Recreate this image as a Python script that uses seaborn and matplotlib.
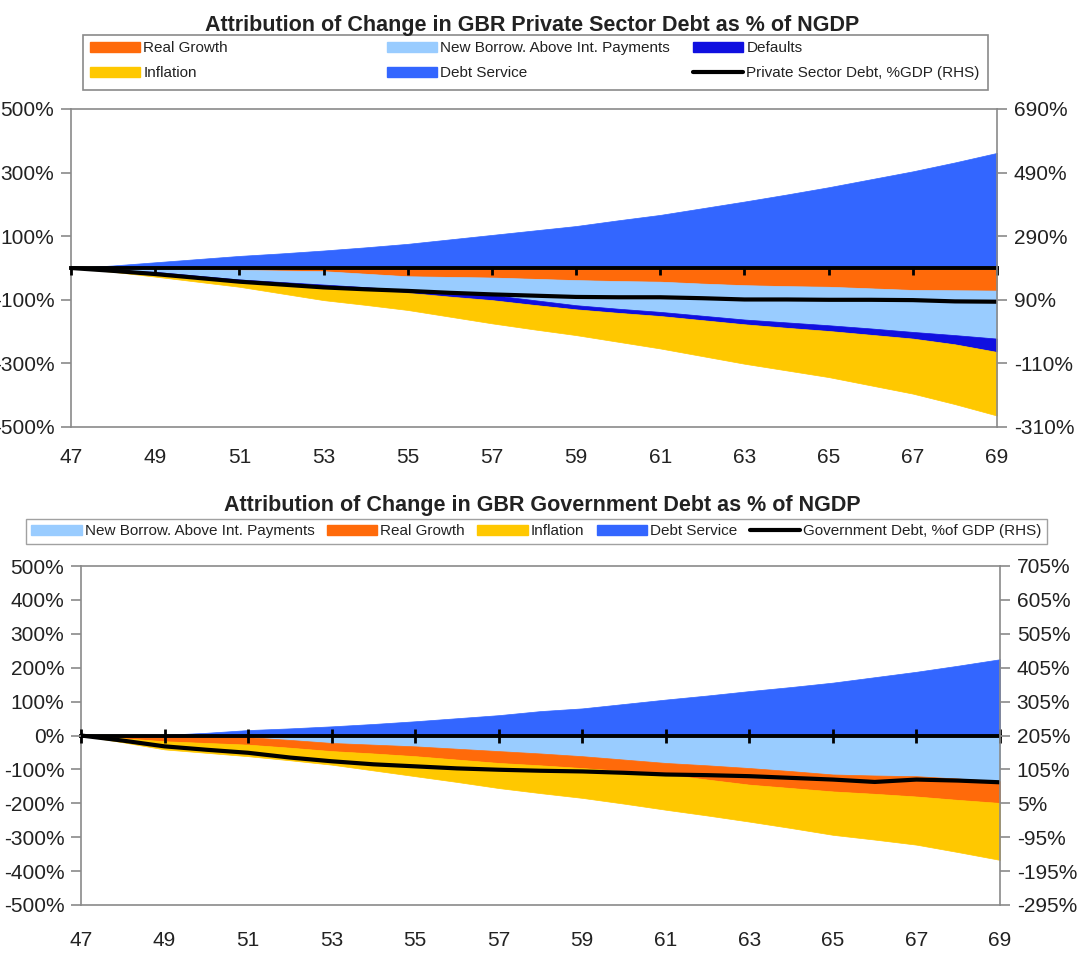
import matplotlib
matplotlib.use("Agg")
import matplotlib.pyplot as plt
import matplotlib.patches as mpatches
import matplotlib.lines as mlines
import seaborn as sns
import pandas as pd

# ---------------- data ----------------
years = list(range(47, 70))
year_ticks = list(range(47, 70, 2))

# Private sector panel (% of NGDP, cumulative contributions)
priv_debt_service = [0, 8, 18, 28, 38, 46, 55, 65, 76, 90, 104, 118, 132, 150, 167, 188, 209, 231, 254, 279, 304, 332, 362]
priv_real_growth = [0, -1, -2, -4, -6, -8, -10, -18, -26, -28, -30, -34, -38, -41, -43, -49, -54, -57, -59, -64, -69, -70, -71]
priv_new_borrow = [0, -5, -10, -20, -30, -36, -42, -42, -43, -49, -55, -67, -79, -87, -95, -101, -108, -114, -121, -126, -132, -141, -151]
priv_defaults = [0, -1, -2, -3, -4, -5, -6, -7, -9, -13, -16, -15, -13, -13, -13, -14, -15, -17, -18, -20, -21, -29, -42]
priv_inflation = [0, -5, -13, -16, -19, -31, -43, -49, -54, -63, -73, -77, -81, -91, -102, -113, -124, -134, -145, -159, -173, -188, -200]
priv_debt_gdp = [190, 181, 171, 159, 147, 138, 129, 123, 118, 112, 107, 103, 99, 98, 98, 95, 91, 91, 90, 90, 89, 85, 84]

# Government panel
gov_debt_service = [0, 0, 2, 8, 16, 21, 27, 34, 42, 51, 60, 72, 80, 93, 106, 118, 131, 143, 156, 172, 188, 206, 225]
gov_new_borrow = [0, -1, -2, -3, -5, -13, -22, -27, -32, -39, -46, -53, -61, -71, -81, -88, -96, -105, -115, -118, -120, -127, -135]
gov_real_growth = [0, -7, -15, -19, -22, -23, -24, -26, -29, -32, -35, -35, -35, -34, -34, -42, -49, -50, -50, -54, -60, -63, -64]
gov_inflation = [0, -12, -24, -29, -34, -37, -40, -50, -59, -66, -74, -82, -88, -96, -104, -106, -109, -118, -128, -135, -142, -154, -168]
gov_debt_gdp = [205, 190, 173, 163, 154, 140, 129, 120, 114, 108, 104, 101, 99, 95, 90, 88, 85, 80, 75, 68, 75, 72, 67]

top_left_ticks = [-500, -300, -100, 100, 300, 500]
top_right_ticks = [-310, -110, 90, 290, 490, 690]
bot_left_ticks = list(range(-500, 501, 100))
bot_right_ticks = list(range(-295, 706, 100))

top_title = "Attribution of Change in GBR Private Sector Debt as % of NGDP"
bot_title = "Attribution of Change in GBR Government Debt as % of NGDP"

C_RG = "#FF6A0A"
C_INF = "#FFC800"
C_NB = "#99CCFF"
C_DS = "#3366FF"
C_DEF = "#1010E0"
GRAY = "#8a8a8a"
TXT = "#222222"

# ---------------- style ----------------
sns.set_theme(style="white")
plt.rcParams["font.family"] = ["Liberation Sans", "DejaVu Sans"]

W, H = 1080, 960
fig = plt.figure(figsize=(W / 100, H / 100), dpi=100)


def add_ax(left, top, right, bottom):
    return fig.add_axes([left / W, 1 - bottom / H, (right - left) / W, (bottom - top) / H])


def setup(ax, ax2, lticks, rlim, rticks, tdir, tlen, xpad):
    ax.set_axisbelow(False)
    ax.set_xlim(47, 69)
    ax.set_ylim(-500, 500)
    ax.set_yticks(lticks)
    ax.set_yticklabels([f"{v}%" for v in lticks])
    ax2.set_ylim(*rlim)
    ax2.set_yticks(rticks)
    ax2.set_yticklabels([f"{v}%" for v in rticks])
    ax.spines["bottom"].set_position(("data", 0))
    ax.spines["bottom"].set_color("black")
    ax.spines["bottom"].set_linewidth(2.8)
    ax.spines["right"].set_visible(False)
    for s in ["left", "top"]:
        ax.spines[s].set_color(GRAY)
        ax.spines[s].set_linewidth(1.2)
    ax.set_xticks(year_ticks)
    ax.tick_params(axis="x", bottom=True, direction=tdir, length=tlen, width=2,
                   color="black", labelbottom=False)
    ax.tick_params(axis="y", left=True, direction="out", length=7, width=1.2,
                   color=GRAY, labelsize=15, labelcolor=TXT, pad=5)
    for s in ["left", "top", "bottom"]:
        ax2.spines[s].set_visible(False)
    ax2.spines["right"].set_color(GRAY)
    ax2.spines["right"].set_linewidth(1.2)
    ax2.tick_params(axis="y", right=True, direction="out", length=7, width=1.2,
                    color=GRAY, labelsize=15, labelcolor=TXT, pad=5)
    ax2.set_xlabel("")
    ax2.set_ylabel("")
    ax.set_xlabel("")
    ax.set_ylabel("")
    sec = ax.secondary_xaxis("bottom")
    sec.set_xticks(year_ticks)
    sec.set_xticklabels([str(v) for v in year_ticks])
    sec.tick_params(axis="x", bottom=True, length=0, labelsize=15, labelcolor=TXT, pad=xpad)
    sec.spines["bottom"].set_color(GRAY)
    sec.spines["bottom"].set_linewidth(1.2)
    ax.set_xlim(47, 69)


# ---------------- top panel ----------------
ax1 = add_ax(71, 109, 997, 427)
ax1.stackplot(years, priv_debt_service, colors=[C_DS], linewidth=0.5, edgecolor="face")
ax1.stackplot(years, priv_real_growth, priv_new_borrow, priv_defaults, priv_inflation,
              colors=[C_RG, C_NB, C_DEF, C_INF], linewidth=0.5, edgecolor="face")
ax1r = ax1.twinx()
df1 = pd.DataFrame({"year": years, "debt": priv_debt_gdp})
sns.lineplot(data=df1, x="year", y="debt", ax=ax1r, color="black", linewidth=3)
setup(ax1, ax1r, top_left_ticks, (-310, 690), top_right_ticks, "out", 5, 15)

# ---------------- bottom panel ----------------
ax3 = add_ax(81, 566, 1000, 905)
ax3.stackplot(years, gov_debt_service, colors=[C_DS], linewidth=0.5, edgecolor="face")
ax3.stackplot(years, gov_new_borrow, gov_real_growth, gov_inflation,
              colors=[C_NB, C_RG, C_INF], linewidth=0.5, edgecolor="face")
ax3r = ax3.twinx()
df2 = pd.DataFrame({"year": years, "debt": gov_debt_gdp})
sns.lineplot(data=df2, x="year", y="debt", ax=ax3r, color="black", linewidth=3)
setup(ax3, ax3r, bot_left_ticks, (-295, 705), bot_right_ticks, "inout", 10, 19)

# ---------------- titles ----------------
fig.text(532 / W, 1 - 25 / H, top_title, ha="center", va="center",
         fontsize=15.5, fontweight="bold", color=TXT)
fig.text(542 / W, 1 - 505 / H, bot_title, ha="center", va="center",
         fontsize=15.5, fontweight="bold", color=TXT)

# ---------------- legends ----------------
def patch(c, lab):
    return mpatches.Patch(facecolor=c, edgecolor=c, label=lab)


line_priv = mlines.Line2D([], [], color="black", linewidth=3, label="Private Sector Debt, %GDP (RHS)")
line_gov = mlines.Line2D([], [], color="black", linewidth=3, label="Government Debt, %of GDP (RHS)")

fig.add_artist(mpatches.Rectangle((83 / W, 1 - 90 / H), 905 / W, 55 / H, transform=fig.transFigure,
                                  fill=False, edgecolor=GRAY, linewidth=1.2))
cols = [
    (90, [patch(C_RG, "Real Growth"), patch(C_INF, "Inflation")]),
    (387, [patch(C_NB, "New Borrow. Above Int. Payments"), patch(C_DS, "Debt Service")]),
    (693, [patch(C_DEF, "Defaults"), line_priv]),
]
for x, hs in cols:
    fig.legend(handles=hs, loc="upper left", bbox_to_anchor=(x / W, 1 - 41 / H),
               frameon=False, borderpad=0, borderaxespad=0, handlelength=3.3,
               handleheight=0.65, handletextpad=0.2, labelspacing=0.75, fontsize=11,
               labelcolor=TXT)

fig.legend(handles=[patch(C_NB, "New Borrow. Above Int. Payments"), patch(C_RG, "Real Growth"),
                    patch(C_INF, "Inflation"), patch(C_DS, "Debt Service"), line_gov],
           ncol=5, loc="upper left", bbox_to_anchor=(26 / W, 1 - 550 / H, 1021 / W, 31 / H),
           mode="expand", frameon=True, fancybox=False, edgecolor=GRAY, borderpad=0.35,
           borderaxespad=0, handlelength=3.3, handleheight=0.65, handletextpad=0.2,
           columnspacing=0.5, fontsize=11, labelcolor=TXT)

fig.savefig("out.png", dpi=100)
